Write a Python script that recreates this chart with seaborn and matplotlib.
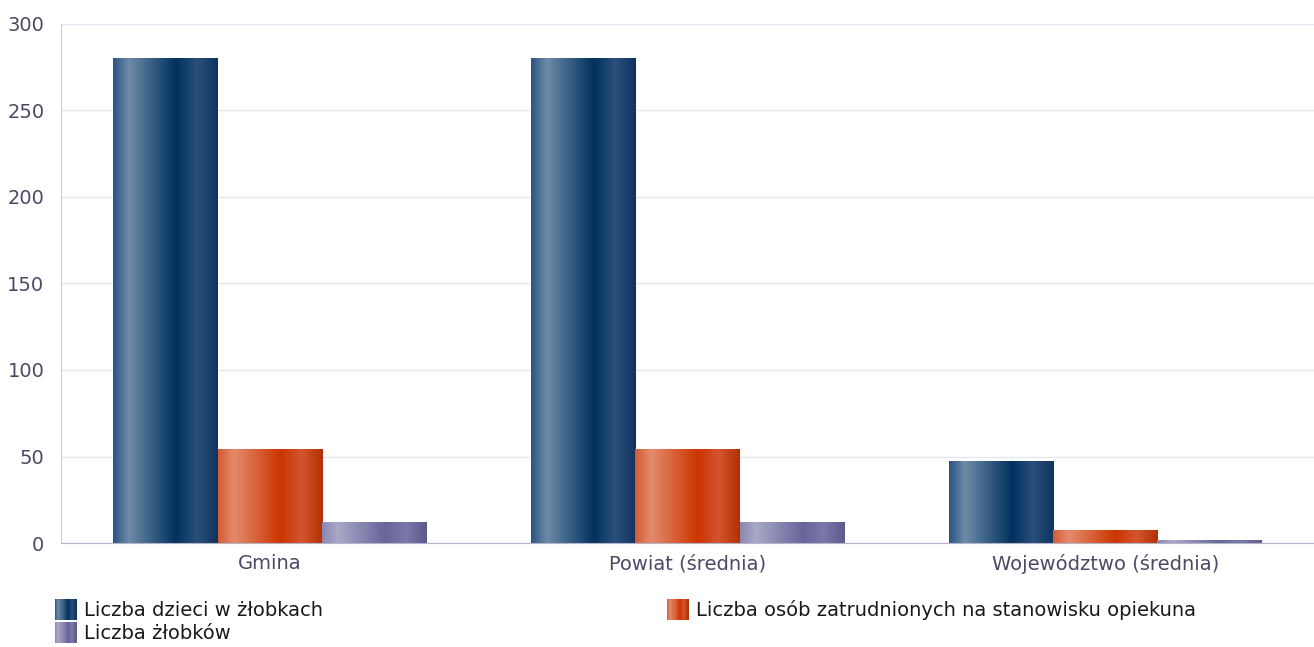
import numpy as np
import pandas as pd
import matplotlib
matplotlib.use("Agg")
import matplotlib.pyplot as plt
import seaborn as sns
from matplotlib.colors import LinearSegmentedColormap
from matplotlib.patches import Rectangle
from matplotlib.legend_handler import HandlerBase

#data
categories = ["Gmina", "Powiat (średnia)", "Województwo (średnia)"]
series = ["Liczba dzieci w żłobkach",
          "Liczba osób zatrudnionych na stanowisku opiekuna",
          "Liczba żłobków"]
dzieci = [280, 280, 47]
opiekunowie = [54, 54, 7.5]
zlobki = [12, 12, 1.7]
yticks = [0, 50, 100, 150, 200, 250, 300]

df = pd.DataFrame({
    "kategoria": categories * 3,
    "seria": [series[0]] * 3 + [series[1]] * 3 + [series[2]] * 3,
    "wartosc": dzieci + opiekunowie + zlobki,
})

#gradient stops per series (bar shading left -> right)
stops = [0, 0.15, 0.6, 0.8, 1.0]
grad_colors = {
    series[0]: ["#2b5481", "#6e8ba8", "#00315f", "#2a4f7a", "#0d335e"],
    series[1]: ["#d55a33", "#e38b6c", "#cc3500", "#d25530", "#b33000"],
    series[2]: ["#8a88b0", "#aaa8c8", "#67659a", "#7b79a8", "#5b5a8c"],
}
cmaps = {k: LinearSegmentedColormap.from_list(k, list(zip(stops, v))) for k, v in grad_colors.items()}
base = {k: v[2] for k, v in grad_colors.items()}

sns.set_style("white")
plt.rcParams["font.family"] = ["DejaVu Sans"]

fig = plt.figure(figsize=(13.14, 6.47), dpi=100)
ax = fig.add_axes([0.0464, 0.1607, 0.9536, 0.8023])

sns.barplot(data=df, x="kategoria", y="wartosc", hue="seria", order=categories,
            hue_order=series, palette=base, width=0.75, gap=0, legend=False,
            edgecolor="none", linewidth=0, ax=ax)

#replace flat fills with gradients
grad = np.linspace(0, 1, 256).reshape(1, -1)
for cont, name in zip(ax.containers, series):
    for bar in cont:
        x, w, h = bar.get_x(), bar.get_width(), bar.get_height()
        ax.imshow(grad, cmap=cmaps[name], extent=[x, x + w, 0, h],
                  aspect="auto", zorder=2, interpolation="bilinear")
        bar.set_facecolor("none")
ax.set_xlim(-0.5, 2.5)
ax.set_ylim(0, 300)
ax.set_aspect("auto")

ax.set_yticks(yticks)
ax.grid(axis="y", color="#e6e6ee", linewidth=1)
ax.set_axisbelow(True)
for s in ["top", "right"]:
    ax.spines[s].set_visible(False)
ax.spines["left"].set_color("#ccccdc")
ax.spines["bottom"].set_color("#b4b4c8")
ax.tick_params(axis="both", length=0, labelsize=14, colors="#4a4a66")
ax.tick_params(axis="x", pad=8)
ax.tick_params(axis="y", pad=12)
ax.set_xlabel("")
ax.set_ylabel("")


#legend with gradient swatches
class GradientHandler(HandlerBase):
    def __init__(self, cmap):
        super().__init__()
        self.cmap = cmap

    def create_artists(self, legend, orig_handle, xdescent, ydescent, width, height, fontsize, trans):
        n = 20
        arts = []
        h = height * 1.25
        y0 = -ydescent - (h - height) / 2
        for i in range(n):
            r = Rectangle((-xdescent + width * i / n, y0), width / n + 0.3, h,
                          facecolor=self.cmap((i + 0.5) / n), edgecolor="none", transform=trans)
            arts.append(r)
        return arts


handles = [Rectangle((0, 0), 1, 1) for _ in series]
order = [0, 2, 1]
leg = fig.legend([handles[i] for i in order], [series[i] for i in order],
                 handler_map={handles[i]: GradientHandler(cmaps[series[i]]) for i in range(3)},
                 ncol=2, loc="upper left", bbox_to_anchor=(0.036, 0.084), frameon=False,
                 fontsize=14, handlelength=1.1, handleheight=0.95, handletextpad=0.38,
                 columnspacing=17.7, labelspacing=0.18, borderaxespad=0)
for t in leg.get_texts():
    t.set_color("#1a1a1a")

plt.savefig("out.png", dpi=100)
